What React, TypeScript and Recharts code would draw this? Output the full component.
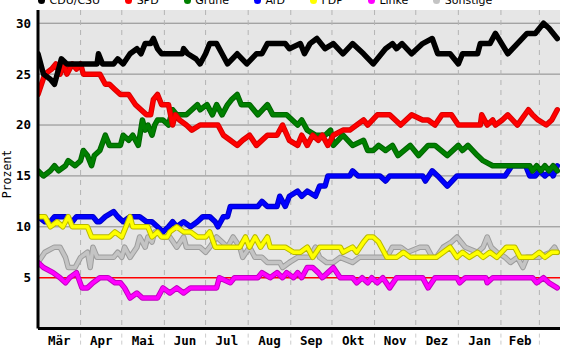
import React from 'react';
import { LineChart, Line, XAxis, YAxis, CartesianGrid, Label } from 'recharts';

// day offsets from 1 March 2022
const cduDays = [0,4,9,12,17,21,31,43,44,47,55,58,62,67,72,75,78,82,84,87,90,105,106,109,115,118,122,125,130,134,138,145,152,159,163,167,180,183,191,194,198,203,209,215,222,229,237,244,253,258,261,265,272,280,287,291,300,306,309,320,322,329,333,342,349,356,362,368,372,378];
const cduVals = [27,25,24.5,24,26.5,26,26,26,27,26,26,26.5,26,27,27.5,27,28,28,28.5,27.5,27,27,27.5,27,26.5,26,27,28,28,27,26,27,26,27,27,28,28,27.5,28,27,28,28.5,27.5,28,27,28,27,26,27.5,28,27.5,28,27,28,28.5,27,27,26,27,27,28,28,29,27,28,29,29,30,29.5,28.5];

const spdDays = [0,5,10,13,16,19,21,25,28,31,33,45,49,52,56,60,66,71,75,79,82,84,87,90,95,98,100,103,108,112,118,131,135,140,145,149,154,159,167,174,178,183,189,192,196,200,204,207,211,215,222,227,232,237,240,247,256,264,272,280,284,289,294,301,306,322,323,327,331,333,338,342,349,357,360,364,370,374,378];
const spdVals = [23,25,25.5,26,25,26,25,26,25.5,26,25,25,24,24,23.5,23,23,22,21.5,21,21,22.5,23,22,22,20,21,20.5,20,19.5,20,20,19,18.5,18,18.5,19,18,19,19,20,18.5,18,19,18,19,18.5,19,18,19,19.5,19.5,20,20.5,20,21,21,20,21,20.5,20.5,20,21,21,20,20,21,20,20.5,20,20.5,21,20,21.5,21,20.5,20,20.5,21.5];

const grueneDays = [0,4,9,12,15,20,22,27,31,33,36,39,41,45,49,52,60,62,66,69,73,76,78,80,83,85,87,91,95,98,101,108,112,116,118,123,127,130,134,138,141,145,148,154,160,167,171,181,189,192,196,202,209,213,215,222,229,237,240,244,248,253,258,262,271,277,284,289,298,306,309,313,320,324,331,346,358,360,363,366,369,372,375,378];
const grueneVals = [15.5,15,15.5,16,15.5,16,16.5,16,16.5,17.5,17,16,17,17.5,19,18,18,19,18.5,19,18,20.5,19.5,20,19,20,20.5,20.5,20,21.5,21,21,21.5,22,21.5,22,21,22,21,22,22.5,23,22,22,21,22,21,21,20,20.5,19.5,19,19,19.5,18,19,18,18.5,17.5,17.5,18,17.5,18,17,18,17,18,18,17,18,17.5,18,17,16.5,16,16,16,15.5,16,15.5,16,15.5,16,15.5];

const afdDays = [0,5,9,12,20,25,28,40,43,45,49,55,58,62,67,74,79,83,87,91,95,98,101,106,111,116,120,125,129,131,135,138,140,160,163,167,174,176,180,183,189,192,196,202,205,209,211,227,229,233,249,253,256,280,282,287,291,298,305,340,345,355,358,362,365,369,373,375,378];
const afdVals = [11,10.5,10.5,11,11,10.5,11,11,10.5,10.5,11,11.5,11,10.5,11,11,10.5,10.5,10,9.5,10,10.5,10,10.5,10,10.5,11,11,10.5,10,11,11,12,12,12.5,12,12,13,12,13,13.5,13,13.5,13,14,14,15,15,15.5,15,15,14.5,15,15,14.5,15.5,15,14,15,15,16,16,15,15,15.5,15,15.5,15,16];

const fdpDays = [0,5,9,14,18,22,25,36,39,52,56,61,67,69,80,83,87,90,94,96,101,106,111,116,122,125,129,142,147,151,154,158,162,167,169,180,186,191,196,200,205,220,222,229,232,237,240,244,248,254,261,266,271,290,295,300,305,309,314,320,324,329,334,341,347,351,360,365,369,374,378];
const fdpVals = [11,11,10,10.5,10,11,10,10,9,9,9.5,9,11,10,10,9,9.5,9,9,9.5,10,9.5,9.5,9,9,9.5,8,8,8,9,8,9,8,9,8,8,7.5,7.5,8,7,8,8,7.5,8,7.5,8.5,9,9,8.5,7,7,7.5,7,7,7.5,8,7,7.5,7,7.5,7,7.5,7,8,8,7,7,7.5,7,7.5,7.5];

const linkeDays = [0,4,11,16,20,23,28,32,36,40,45,51,56,60,63,67,72,76,87,91,96,101,106,111,130,132,140,143,160,163,169,174,178,181,186,189,192,196,200,204,207,211,215,220,229,232,236,240,243,247,251,256,261,280,284,289,305,307,311,326,327,331,360,363,368,372,378];
const linkeVals = [6.5,6,5.5,5,4.5,5,5.5,4,4,4.5,5,5,4.5,4.5,4,3,3.5,3,3,4,3.5,4,3.5,4,4,5,4.5,5,5,5.5,5,5.5,5,5.5,5,5.5,5,6,6,5.5,5,5.5,6,5,5,4.5,5,4.5,5,4.5,5,4,5,5,4,5,5,4.5,5,5,4.5,5,5,4.5,5,4.5,4];

const sonstDays = [0,5,12,16,20,22,27,31,36,38,40,43,55,58,61,63,67,72,74,78,80,83,85,89,91,96,101,106,108,118,122,125,130,134,138,142,147,149,154,158,163,167,176,178,183,189,198,202,205,210,215,220,229,234,254,258,264,269,278,283,287,290,295,301,305,311,320,324,327,330,334,340,344,349,353,356,365,373,376,378];
const sonstVals = [6.5,7.5,8,8,7,6,6,7,7.5,6,8,7,7,7.5,7,8,7,8,9,8,9,8.5,9.5,9.5,9,9,8,9,8,8,7.5,8,9,8.5,8,9,8,7,8,7,7,6.5,6.5,6,6.5,7,7,8,7,6.5,6.5,7,6.5,7,7,8,8,7.5,8,8,7,7,8,8.5,9,8,7.5,8,9,8,7.5,7,6.5,7,6,7,7,7.5,8,7.5];

// 5 % threshold line
const thresholdValue = 5;
const xDomain = [0, 380];

const yTicks = [5, 10, 15, 20, 25, 30];
const gridValues = [10, 15, 20, 25, 30];
const monthLabels = ['Mär', 'Apr', 'Mai', 'Jun', 'Jul', 'Aug', 'Sep', 'Okt', 'Nov', 'Dez', 'Jan', 'Feb'];
const monthMids = [15.5, 46, 76.5, 107, 137.5, 168.5, 199, 229.5, 260, 290.5, 321.5, 351];
const monthStarts = [31, 61, 92, 122, 153, 184, 214, 245, 275, 306, 337, 365];

const series = [
  { name: 'CDU/CSU', color: '#000000', edge: '#000000', days: cduDays, vals: cduVals },
  { name: 'SPD', color: '#ff0000', edge: '#d80000', days: spdDays, vals: spdVals },
  { name: 'Grüne', color: '#008000', edge: '#006400', days: grueneDays, vals: grueneVals },
  { name: 'AfD', color: '#0000ff', edge: '#0000c8', days: afdDays, vals: afdVals },
  { name: 'FDP', color: '#ffff00', edge: '#b8b800', days: fdpDays, vals: fdpVals },
  { name: 'Linke', color: '#ff00ff', edge: '#c000c0', days: linkeDays, vals: linkeVals },
  { name: 'Sonstige', color: '#c4c4c4', edge: '#9c9c9c', days: sonstDays, vals: sonstVals },
];
const drawOrder = ['Sonstige', 'Linke', 'AfD', 'FDP', 'Grüne', 'SPD', 'CDU/CSU'];

const MONO = "'DejaVu Sans Mono', monospace";

const XTick = (props: any) => {
  const { x, y, payload } = props;
  const idx = monthMids.indexOf(payload.value);
  if (idx >= 0) {
    return (
      <text x={x} y={y + 16.5} textAnchor="middle" fontFamily={MONO} fontWeight="bold" fontSize={12.5} fill="#000">
        {monthLabels[idx]}
      </text>
    );
  }
  return <line x1={x} x2={x} y1={y + 5} y2={y + 18} stroke="#cccccc" strokeDasharray="4 3" />;
};

export default function App() {
  const ordered = drawOrder.map((n) => series.find((s) => s.name === n)!);
  const threshold = xDomain.map((d) => ({ d, v: thresholdValue }));
  return (
    <div style={{ position: 'absolute', left: 0, top: 0, width: 570, height: 350, overflow: 'hidden', background: '#fff' }}>
      <div
        style={{
          position: 'absolute', top: -5, left: 38, display: 'flex', alignItems: 'center',
          fontFamily: "'DejaVu Sans', sans-serif", fontSize: 11, lineHeight: '11px', whiteSpace: 'nowrap', color: '#000',
        }}
      >
        {series.map((s) => (
          <span key={s.name} style={{ display: 'flex', alignItems: 'center', marginRight: 25 }}>
            <span style={{ display: 'inline-block', width: 7, height: 7, borderRadius: '50%', background: s.color, marginRight: 4.5 }} />
            {s.name}
          </span>
        ))}
      </div>
      <LineChart width={570} height={350} margin={{ top: 10, right: 10, bottom: 0, left: 0 }}>
        <CartesianGrid vertical={false} horizontalValues={gridValues} stroke="#8a8a8a" fill="#e6e6e6" fillOpacity={1} />
        <CartesianGrid horizontal={false} verticalValues={monthStarts} stroke="#b4b4b4" strokeDasharray="5 5" fill="none" />
        <XAxis
          type="number"
          dataKey="d"
          domain={xDomain}
          ticks={[...monthMids, ...monthStarts]}
          interval={0}
          tick={<XTick />}
          tickLine={false}
          tickSize={0}
          tickMargin={0}
          height={21.4}
          axisLine={{ stroke: '#000', strokeWidth: 3 }}
          allowDataOverflow
        />
        <YAxis
          type="number"
          domain={[0, 31.3]}
          ticks={yTicks}
          interval={0}
          width={38}
          tickLine={false}
          tickSize={0}
          tickMargin={7}
          axisLine={{ stroke: '#000', strokeWidth: 3 }}
          tick={{ fontFamily: MONO, fontWeight: 'bold', fontSize: 12.5, fill: '#000' }}
          allowDataOverflow
        >
          <Label
            content={() => (
              <text x={11} y={174} transform="rotate(-90 11 174)" textAnchor="middle" fontFamily={MONO} fontSize={11.5} fill="#000">
                Prozent
              </text>
            )}
          />
        </YAxis>
        <Line data={threshold} dataKey="v" type="linear" stroke="#ff0000" strokeWidth={1.6}
          dot={false} activeDot={false} isAnimationActive={false} legendType="none" />
        {ordered.map((s) => {
          const data = s.days.map((d, i) => ({ d, v: s.vals[i] }));
          return [
            <Line key={s.name + '-edge'} data={data} dataKey="v" type="linear" stroke={s.edge} strokeWidth={5.5}
              dot={false} activeDot={false} isAnimationActive={false} strokeLinejoin="round" strokeLinecap="round" legendType="none" />,
            <Line key={s.name + '-core'} data={data} dataKey="v" name={s.name} type="linear" stroke={s.color} strokeWidth={3.5}
              dot={false} activeDot={false} isAnimationActive={false} strokeLinejoin="round" strokeLinecap="round" />,
          ];
        })}
      </LineChart>
    </div>
  );
}
